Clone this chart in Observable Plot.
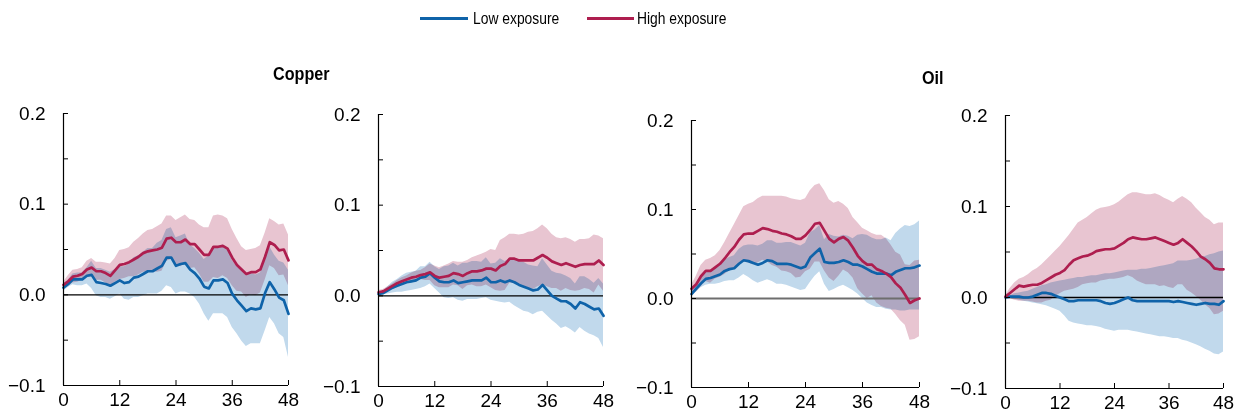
<!DOCTYPE html>
<html><head><meta charset="utf-8">
<script src="https://cdn.jsdelivr.net/npm/d3@7"></script>
<script src="https://cdn.jsdelivr.net/npm/@observablehq/plot@0.6"></script>
<style>
body{margin:0;background:#fff;}
#root{position:relative;width:1239px;height:417px;overflow:hidden;background:#fff;
 font-family:"Liberation Sans Narrow","Arial Narrow","Liberation Sans",Arial,sans-serif;color:#000;}
.panel{position:absolute;}
.title{position:absolute;font-weight:bold;font-size:19px;line-height:19px;white-space:nowrap;transform:scaleX(0.85);transform-origin:0 50%;}
.leg{position:absolute;font-size:16.5px;line-height:16px;white-space:nowrap;transform:scaleX(0.84);transform-origin:0 50%;}
.legline{position:absolute;height:3px;}
</style></head><body><div id="root"></div>
<script>
// ---------- data ----------
const months = [0,1,2,3,4,5,6,7,8,9,10,11,12,13,14,15,16,17,18,19,20,21,22,23,24,25,26,27,28,29,30,31,32,33,34,35,36,37,38,39,40,41,42,43,44,45,46,47,48];
const xTicks = [0,12,24,36,48];
const yTicks = [-0.1,-0.05,0,0.05,0.1,0.15,0.2];
const yLabelled = [-0.1,0,0.1,0.2];
const seriesNames = ["Low exposure","High exposure"];
const groupTitles = ["Copper","Oil"];

// Panel 1 (Copper, left)
const p1Low   = [0.008,0.012,0.017,0.017,0.017,0.021,0.022,0.014,0.013,0.012,0.010,0.013,0.016,0.013,0.014,0.019,0.020,0.023,0.026,0.026,0.029,0.032,0.041,0.041,0.032,0.034,0.035,0.028,0.024,0.018,0.009,0.007,0.016,0.016,0.017,0.013,0.001,-0.006,-0.012,-0.018,-0.015,-0.016,-0.015,0.002,0.014,0.006,-0.003,-0.006,-0.021];
const p1LowLo = [0.004,0.008,0.011,0.010,0.010,0.012,0.007,-0.001,-0.003,-0.003,-0.005,-0.002,0.001,-0.005,-0.006,-0.003,-0.003,-0.001,0.001,0.001,0.001,0.004,0.010,0.008,0.001,0.003,0.003,0.001,-0.003,-0.010,-0.021,-0.029,-0.021,-0.021,-0.021,-0.025,-0.036,-0.043,-0.051,-0.057,-0.054,-0.054,-0.054,-0.040,-0.025,-0.032,-0.043,-0.047,-0.069];
const p1LowHi = [0.012,0.016,0.023,0.024,0.024,0.030,0.037,0.029,0.029,0.027,0.025,0.028,0.031,0.031,0.034,0.041,0.043,0.047,0.051,0.051,0.057,0.060,0.072,0.074,0.063,0.065,0.067,0.055,0.051,0.046,0.039,0.043,0.053,0.053,0.055,0.051,0.038,0.031,0.027,0.021,0.024,0.022,0.024,0.044,0.053,0.044,0.037,0.035,0.027];
const p1High   = [0.011,0.015,0.020,0.021,0.023,0.028,0.030,0.026,0.026,0.024,0.021,0.027,0.033,0.034,0.036,0.039,0.042,0.046,0.048,0.049,0.050,0.052,0.062,0.063,0.058,0.058,0.061,0.056,0.056,0.050,0.044,0.044,0.053,0.053,0.054,0.051,0.041,0.033,0.028,0.023,0.025,0.025,0.028,0.042,0.058,0.055,0.049,0.050,0.038];
const p1HighLo = [0.008,0.009,0.013,0.014,0.016,0.019,0.020,0.016,0.016,0.013,0.008,0.014,0.017,0.018,0.020,0.020,0.022,0.025,0.025,0.026,0.025,0.026,0.037,0.039,0.034,0.031,0.034,0.029,0.030,0.023,0.014,0.014,0.019,0.018,0.021,0.018,0.010,0.004,0.003,-0.003,0.000,-0.001,0.002,0.016,0.032,0.029,0.021,0.022,0.010];
const p1HighHi = [0.014,0.021,0.027,0.028,0.030,0.037,0.040,0.036,0.036,0.035,0.034,0.040,0.049,0.050,0.052,0.058,0.062,0.067,0.071,0.072,0.075,0.078,0.087,0.087,0.082,0.085,0.088,0.083,0.082,0.077,0.074,0.074,0.087,0.088,0.087,0.084,0.072,0.062,0.053,0.049,0.050,0.051,0.054,0.068,0.084,0.081,0.077,0.078,0.066];

// Panel 2 (Copper, right)
const p2Low   = [0.002,0.003,0.006,0.009,0.011,0.013,0.015,0.016,0.017,0.020,0.021,0.025,0.020,0.016,0.015,0.015,0.017,0.014,0.015,0.016,0.017,0.017,0.017,0.020,0.015,0.015,0.017,0.015,0.017,0.015,0.012,0.010,0.008,0.006,0.007,0.012,0.006,0.000,-0.003,-0.006,-0.006,-0.009,-0.014,-0.007,-0.009,-0.012,-0.015,-0.014,-0.022];
const p2LowLo = [0.000,0.001,0.002,0.003,0.004,0.004,0.005,0.006,0.007,0.008,0.010,0.013,0.008,0.003,-0.002,-0.003,-0.002,-0.005,-0.006,-0.004,-0.004,-0.004,-0.003,-0.002,-0.005,-0.006,-0.007,-0.008,-0.007,-0.011,-0.014,-0.017,-0.018,-0.021,-0.018,-0.017,-0.022,-0.027,-0.031,-0.036,-0.034,-0.037,-0.041,-0.035,-0.039,-0.042,-0.044,-0.047,-0.057];
const p2LowHi = [0.004,0.005,0.010,0.015,0.018,0.022,0.025,0.026,0.027,0.032,0.032,0.037,0.032,0.029,0.032,0.033,0.036,0.033,0.036,0.036,0.038,0.038,0.037,0.042,0.035,0.036,0.041,0.038,0.041,0.041,0.038,0.037,0.034,0.033,0.032,0.041,0.034,0.027,0.025,0.024,0.022,0.019,0.013,0.021,0.021,0.018,0.014,0.019,0.013];
const p2High   = [0.004,0.005,0.008,0.011,0.014,0.016,0.018,0.020,0.021,0.023,0.024,0.026,0.022,0.020,0.021,0.022,0.025,0.024,0.022,0.025,0.027,0.027,0.028,0.030,0.030,0.028,0.033,0.035,0.041,0.041,0.039,0.039,0.039,0.039,0.042,0.045,0.042,0.038,0.036,0.034,0.036,0.034,0.032,0.034,0.035,0.035,0.035,0.039,0.034];
const p2HighLo = [0.002,0.003,0.006,0.009,0.011,0.012,0.014,0.015,0.015,0.018,0.017,0.017,0.011,0.009,0.009,0.009,0.012,0.011,0.007,0.011,0.012,0.010,0.010,0.012,0.009,0.006,0.005,0.006,0.014,0.014,0.011,0.010,0.008,0.007,0.010,0.012,0.010,0.008,0.008,0.005,0.008,0.006,0.005,0.006,0.008,0.007,0.003,0.012,0.005];
const p2HighHi = [0.006,0.007,0.010,0.013,0.017,0.020,0.022,0.025,0.027,0.028,0.031,0.035,0.033,0.031,0.033,0.035,0.038,0.037,0.037,0.039,0.042,0.044,0.046,0.048,0.051,0.050,0.061,0.064,0.068,0.068,0.067,0.068,0.070,0.071,0.074,0.078,0.074,0.068,0.064,0.063,0.064,0.062,0.059,0.062,0.062,0.063,0.067,0.066,0.063];

// Panel 3 (Oil, left)
const p3Low   = [0.005,0.011,0.017,0.022,0.023,0.025,0.027,0.031,0.033,0.034,0.039,0.043,0.042,0.040,0.038,0.040,0.043,0.042,0.039,0.039,0.039,0.038,0.036,0.034,0.036,0.046,0.051,0.056,0.041,0.040,0.040,0.041,0.043,0.041,0.038,0.038,0.036,0.033,0.030,0.028,0.028,0.028,0.026,0.030,0.032,0.034,0.034,0.035,0.037];
const p3LowLo = [0.002,0.007,0.012,0.015,0.016,0.016,0.017,0.019,0.020,0.020,0.023,0.027,0.024,0.020,0.017,0.019,0.021,0.019,0.016,0.016,0.015,0.013,0.011,0.009,0.010,0.018,0.025,0.030,0.016,0.008,0.010,0.013,0.015,0.012,0.009,0.005,0.000,-0.005,-0.008,-0.010,-0.010,-0.012,-0.013,-0.013,-0.014,-0.014,-0.013,-0.013,-0.013];
const p3LowHi = [0.008,0.015,0.022,0.029,0.030,0.034,0.037,0.043,0.046,0.048,0.055,0.059,0.060,0.060,0.059,0.061,0.065,0.065,0.062,0.062,0.063,0.063,0.061,0.059,0.062,0.074,0.077,0.082,0.066,0.072,0.070,0.069,0.071,0.070,0.067,0.071,0.072,0.071,0.068,0.066,0.066,0.068,0.065,0.073,0.078,0.082,0.081,0.083,0.087];
const p3High   = [0.011,0.016,0.025,0.031,0.031,0.035,0.039,0.045,0.052,0.058,0.066,0.072,0.073,0.073,0.076,0.079,0.078,0.076,0.075,0.073,0.072,0.070,0.067,0.067,0.071,0.077,0.084,0.085,0.076,0.067,0.063,0.067,0.069,0.065,0.057,0.048,0.042,0.038,0.038,0.033,0.031,0.028,0.024,0.017,0.012,0.004,-0.005,-0.002,0.000];
const p3HighLo = [0.007,0.007,0.013,0.019,0.017,0.022,0.024,0.027,0.031,0.033,0.039,0.041,0.040,0.038,0.040,0.043,0.041,0.037,0.035,0.031,0.030,0.028,0.023,0.024,0.030,0.033,0.041,0.041,0.031,0.023,0.019,0.025,0.032,0.029,0.023,0.011,0.005,0.000,0.003,-0.005,-0.009,-0.011,-0.012,-0.018,-0.025,-0.030,-0.047,-0.046,-0.043];
const p3HighHi = [0.015,0.025,0.037,0.043,0.045,0.048,0.054,0.063,0.073,0.083,0.093,0.103,0.106,0.108,0.112,0.115,0.115,0.115,0.115,0.115,0.114,0.112,0.111,0.110,0.112,0.121,0.127,0.129,0.121,0.111,0.107,0.109,0.106,0.101,0.091,0.085,0.079,0.076,0.073,0.071,0.071,0.067,0.060,0.052,0.049,0.038,0.037,0.042,0.043];

// Panel 4 (Oil, right)
const p4Low   = [0.000,0.001,0.001,0.001,0.000,0.000,0.001,0.003,0.005,0.005,0.004,0.002,0.000,-0.002,-0.004,-0.004,-0.003,-0.003,-0.003,-0.003,-0.003,-0.004,-0.006,-0.007,-0.006,-0.004,-0.002,0.000,-0.003,-0.004,-0.004,-0.004,-0.004,-0.004,-0.004,-0.004,-0.004,-0.005,-0.004,-0.005,-0.006,-0.007,-0.008,-0.007,-0.006,-0.007,-0.007,-0.008,-0.004];
const p4LowLo = [0.000,-0.001,-0.002,-0.003,-0.004,-0.005,-0.006,-0.007,-0.008,-0.009,-0.011,-0.013,-0.015,-0.020,-0.026,-0.028,-0.029,-0.030,-0.031,-0.031,-0.032,-0.033,-0.035,-0.036,-0.037,-0.036,-0.036,-0.036,-0.037,-0.038,-0.039,-0.040,-0.041,-0.042,-0.043,-0.043,-0.044,-0.045,-0.045,-0.047,-0.048,-0.050,-0.052,-0.054,-0.057,-0.059,-0.062,-0.063,-0.060];
const p4LowHi = [0.000,0.002,0.004,0.005,0.006,0.007,0.009,0.011,0.013,0.014,0.016,0.017,0.018,0.019,0.020,0.021,0.022,0.022,0.023,0.024,0.024,0.025,0.026,0.026,0.027,0.028,0.029,0.030,0.030,0.030,0.031,0.031,0.032,0.033,0.034,0.035,0.036,0.037,0.040,0.040,0.040,0.041,0.042,0.044,0.045,0.047,0.048,0.050,0.051];
const p4High   = [0.001,0.005,0.009,0.013,0.012,0.013,0.014,0.014,0.016,0.019,0.022,0.025,0.027,0.030,0.036,0.041,0.043,0.045,0.046,0.048,0.051,0.052,0.053,0.053,0.054,0.057,0.060,0.064,0.066,0.065,0.064,0.064,0.065,0.066,0.064,0.062,0.060,0.058,0.060,0.064,0.060,0.056,0.051,0.045,0.042,0.038,0.032,0.031,0.031];
const p4HighLo = [0.000,-0.001,-0.003,-0.004,-0.004,-0.004,-0.005,-0.006,-0.006,-0.004,-0.003,0.001,0.004,0.007,0.008,0.009,0.011,0.014,0.015,0.016,0.016,0.018,0.019,0.020,0.020,0.021,0.022,0.024,0.022,0.018,0.016,0.014,0.014,0.014,0.012,0.013,0.011,0.010,0.014,0.014,0.008,0.005,0.001,-0.003,-0.008,-0.012,-0.019,-0.018,-0.015];
const p4HighHi = [0.002,0.010,0.016,0.020,0.022,0.025,0.029,0.032,0.036,0.041,0.046,0.051,0.056,0.062,0.068,0.075,0.082,0.085,0.088,0.092,0.096,0.098,0.099,0.100,0.102,0.105,0.109,0.113,0.115,0.115,0.114,0.113,0.113,0.114,0.112,0.109,0.107,0.104,0.108,0.111,0.108,0.104,0.098,0.093,0.088,0.085,0.080,0.082,0.082];

// ---------- style / layout ----------
const blueLine = "#0f63a9", redLine = "#ae1e4f";
const blueBand = "#c1d9ec", redBand = "#e8c5d1";
const FONT = '"Liberation Sans Narrow","Arial Narrow","Liberation Sans",Arial,sans-serif';
const mL = 50, mR = 15, mT = 10, mB = 35;

const panels = [
  {axisX: 63,   top: 113, w: 225, h: 272, zero: "#000", zw: 1.3,
   low: p1Low, lowLo: p1LowLo, lowHi: p1LowHi, high: p1High, highLo: p1HighLo, highHi: p1HighHi},
  {axisX: 378,  top: 114, w: 225, h: 272, zero: "#000", zw: 1.3,
   low: p2Low, lowLo: p2LowLo, lowHi: p2LowHi, high: p2High, highLo: p2HighLo, highHi: p2HighHi},
  {axisX: 691,  top: 120, w: 228, h: 267, zero: "#6e6e6e", zw: 1.8,
   low: p3Low, lowLo: p3LowLo, lowHi: p3LowHi, high: p3High, highLo: p3HighLo, highHi: p3HighHi},
  {axisX: 1005, top: 115, w: 218, h: 273, zero: "#000", zw: 1.3,
   low: p4Low, lowLo: p4LowLo, lowHi: p4LowHi, high: p4High, highLo: p4HighLo, highHi: p4HighHi}
];

const root = document.getElementById("root");
const fmt = d3.format(".1f");

for (const p of panels) {
  const rows = months.map((m, i) => ({
    m, low: p.low[i], lowLo: p.lowLo[i], lowHi: p.lowHi[i],
    high: p.high[i], highLo: p.highLo[i], highHi: p.highHi[i]
  }));
  const chart = Plot.plot({
    width: mL + p.w + mR,
    height: mT + p.h + mB,
    marginLeft: mL, marginRight: mR, marginTop: mT, marginBottom: mB,
    style: {fontFamily: FONT, fontSize: "19px", color: "#000", background: "transparent", overflow: "visible"},
    x: {domain: [0, 48], label: null},
    y: {domain: [-0.1, 0.2], label: null},
    marks: [
      Plot.areaY(rows, {x: "m", y1: "lowLo", y2: "lowHi", fill: blueBand, mixBlendMode: "multiply", curve: "linear"}),
      Plot.areaY(rows, {x: "m", y1: "highLo", y2: "highHi", fill: redBand, mixBlendMode: "multiply", curve: "linear"}),
      Plot.ruleY([0], {stroke: p.zero, strokeWidth: p.zw}),
      Plot.lineY(rows, {x: "m", y: "low", stroke: blueLine, strokeWidth: 2.7}),
      Plot.lineY(rows, {x: "m", y: "high", stroke: redLine, strokeWidth: 2.7}),
      Plot.ruleX([0], {stroke: "#000", strokeWidth: 1.2}),
      Plot.ruleY([-0.1], {stroke: "#000", strokeWidth: 1.2}),
      Plot.axisY({ticks: yTicks, tickSize: -5, tickPadding: 23, label: null,
        tickFormat: v => yLabelled.some(t => Math.abs(t - v) < 1e-9) ? fmt(v) : ""}),
      Plot.axisX({ticks: xTicks, tickSize: -5, tickPadding: 12, label: null, tickFormat: d3.format("d")})
    ]
  });
  chart.classList.add("panel");
  chart.style.left = (p.axisX - mL) + "px";
  chart.style.top = (p.top - mT) + "px";
  root.appendChild(chart);
}

// titles
const titles = [{text: groupTitles[0], left: 273, top: 64}, {text: groupTitles[1], left: 922, top: 68}];
for (const t of titles) {
  const d = document.createElement("div");
  d.className = "title"; d.textContent = t.text;
  d.style.left = t.left + "px"; d.style.top = t.top + "px";
  root.appendChild(d);
}

// legend
const legendItems = [
  {name: seriesNames[0], color: blueLine, x1: 420, x2: 468, tx: 473},
  {name: seriesNames[1], color: redLine, x1: 587, x2: 634, tx: 637}
];
for (const it of legendItems) {
  const ln = document.createElement("div");
  ln.className = "legline";
  ln.style.left = it.x1 + "px"; ln.style.width = (it.x2 - it.x1) + "px";
  ln.style.top = "17px"; ln.style.background = it.color;
  root.appendChild(ln);
  const tx = document.createElement("div");
  tx.className = "leg"; tx.textContent = it.name;
  tx.style.left = it.tx + "px"; tx.style.top = "10px";
  root.appendChild(tx);
}
</script></body></html>
